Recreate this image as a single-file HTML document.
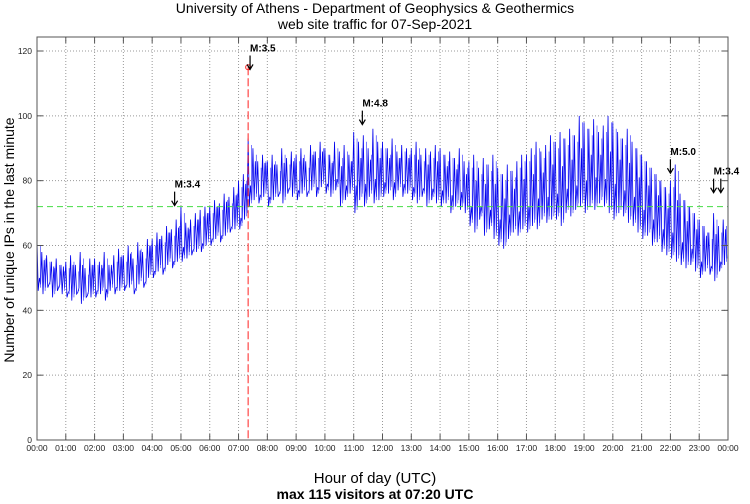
<!DOCTYPE html>
<html><head><meta charset="utf-8"><style>
body{margin:0;background:#fff;font-family:"Liberation Sans",sans-serif}
svg{display:block}
</style></head><body>
<svg id="c" width="750" height="504" xmlns="http://www.w3.org/2000/svg">
<text x="375" y="13" text-anchor="middle" font-size="14">University of Athens - Department of Geophysics &amp; Geothermics</text>
<text x="375" y="29" text-anchor="middle" font-size="14">web site traffic for 07-Sep-2021</text>
<text x="375" y="483" text-anchor="middle" font-size="15">Hour of day (UTC)</text>
<text x="375" y="499" text-anchor="middle" font-size="14" font-weight="bold">max 115 visitors at 07:20 UTC</text>
<text transform="translate(14,240) rotate(-90)" text-anchor="middle" font-size="14">Number of unique IPs in the last minute</text>
<g id="grid"></g>
<g id="series"></g>
<g id="marks"></g>
<g id="axes"></g>
</svg>
<script>
const hiVals=[62,58,57,55,56,54, 55,57,54,58,53,56, 56,55,58,54,57,59, 57,60,56,61,58,62, 62,64,63,66,65,68, 72,67,68,70,71,72, 72,74,73,76,75,78, 80,82,93,90,86,88, 86,88,85,90,87,89, 88,90,86,91,89,92, 90,88,92,89,91,88, 95,92,94,90,96,92, 92,90,93,89,91,90, 90,92,88,90,89,91, 90,88,89,87,90,86, 86,88,84,87,85,88, 84,82,85,83,86,88, 88,90,92,89,91,94, 92,95,93,96,94,100, 98,96,99,95,97,100, 98,95,93,96,92,90, 88,86,84,82,80,78, 80,85,76,74,72,70, 68,66,64,70,66,68];
const loVals=[46,45,47,44,46,45, 44,43,45,42,44,44, 44,45,43,46,45,46, 46,47,45,48,47,50, 50,52,51,54,53,55, 55,56,57,58,58,60, 60,62,61,63,64,65, 65,68,72,74,73,75, 72,74,75,73,76,75, 74,76,75,77,75,78, 76,75,77,72,74,76, 70,74,72,75,73,74, 75,76,74,77,75,76, 74,73,75,72,74,73, 72,73,70,72,71,70, 66,64,68,63,65,62, 60,59,62,64,63,65, 64,66,65,68,67,68, 68,66,70,69,71,72, 70,72,71,73,72,70, 68,70,69,67,66,64, 62,63,60,61,58,57, 56,55,54,53,54,52, 50,52,51,49,52,54];
const yTicks=[0,20,40,60,80,100,120];
const xTickLabels=["00:00","01:00","02:00","03:00","04:00","05:00","06:00","07:00","08:00","09:00","10:00","11:00","12:00","13:00","14:00","15:00","16:00","17:00","18:00","19:00","20:00","21:00","22:00","23:00","00:00"];
const markerHours=[4.78,7.4,11.3,22.0,23.5,23.75];
const markerVals=[76,118,101,86,80,80];
const markerLabels=["M:3.4","M:3.5","M:4.8","M:5.0","M:3.4",""];
const maxHour=7.333, maxVal=115, meanVal=72;
const L=37,R=728,T=37,B=440;
const X=h=>L+h/24*(R-L);
const Y=v=>B-v/120*(B-51);
const NS="http://www.w3.org/2000/svg";
function mk(p,t,a){const e=document.createElementNS(NS,t);for(const k in a)e.setAttribute(k,a[k]);p.appendChild(e);return e;}
const grid=document.getElementById('grid'),axes=document.getElementById('axes'),ser=document.getElementById('series'),marks=document.getElementById('marks');
xTickLabels.forEach((lab,i)=>{const x=X(i);
 if(i>0&&i<24){const g=mk(grid,'line',{x1:x,x2:x,y1:T,y2:B,stroke:'#999','stroke-dasharray':'1,2'});
 
 }
 mk(axes,'line',{x1:x,x2:x,y1:B,y2:B-6,stroke:'#555'});mk(axes,'line',{x1:x,x2:x,y1:T,y2:T+6,stroke:'#555'});
 const t=mk(axes,'text',{x:x,y:451,'text-anchor':'middle','font-size':'8.5',fill:'#222'});t.textContent=lab;
 
 
});
yTicks.forEach(v=>{const y=Y(v);
 if(v>0){const g=mk(grid,'line',{x1:L,x2:R,y1:y,y2:y,stroke:'#999','stroke-dasharray':'1,2'});
 
 }
 mk(axes,'line',{x1:L,x2:L+6,y1:y,y2:y,stroke:'#555'});mk(axes,'line',{x1:R,x2:R-6,y1:y,y2:y,stroke:'#555'});
 const t=mk(axes,'text',{x:32,y:y+3,'text-anchor':'end','font-size':'8.5',fill:'#222'});t.textContent=v;
 
 
});
const fr=mk(axes,'rect',{x:L,y:T,width:R-L,height:B-T,fill:'none',stroke:'#555'});


let pts=[];const n=hiVals.length;
for(let i=0;i<n;i++){const h0=i*24/n,hm=(i+0.5)*24/n;
 pts.push(X(h0)+','+Y(hiVals[i]));pts.push(X(h0+24/n*0.25)+','+Y(loVals[i]));
 pts.push(X(hm)+','+Y((hiVals[i]+loVals[i])/2+ (i%2?4:-4)));pts.push(X(hm+24/n*0.25)+','+Y(loVals[i]+2));}
const pl=mk(ser,'polyline',{points:pts.join(' '),fill:'none',stroke:'#0000ee','stroke-width':'0.8'});


for(let i=0;i<n;i++){const x=X((i+0.7)*24/n);const v=mk(ser,'line',{x1:x,x2:x,y1:Y(hiVals[i]-2),y2:Y(loVals[i]+1),stroke:'#4444ff','stroke-width':'0.7'});}
const mean=mk(marks,'line',{x1:L,x2:R,y1:Y(meanVal),y2:Y(meanVal),stroke:'#44dd44','stroke-dasharray':'6,4'});


const ml=mk(marks,'line',{x1:X(maxHour),x2:X(maxHour),y1:Y(maxVal),y2:B,stroke:'#ff2222','stroke-dasharray':'8,3'});


const mc=mk(marks,'circle',{cx:X(maxHour),cy:Y(maxVal),r:2.5,fill:'none',stroke:'#ff2222'});


markerHours.forEach((h,i)=>{const x=X(h),y=Y(markerVals[i]);
 const a=mk(marks,'path',{d:`M${x},${y-2} V${y+12} M${x-3},${y+7} L${x},${y+12} L${x+3},${y+7}`,stroke:'#000',fill:'none','stroke-width':'1.2'});
 
 
 if(markerLabels[i]){const t=mk(marks,'text',{x:x,y:y-6,'font-size':'10','font-weight':'bold'});t.textContent=markerLabels[i];
 
 }
});
</script>
</body></html>
